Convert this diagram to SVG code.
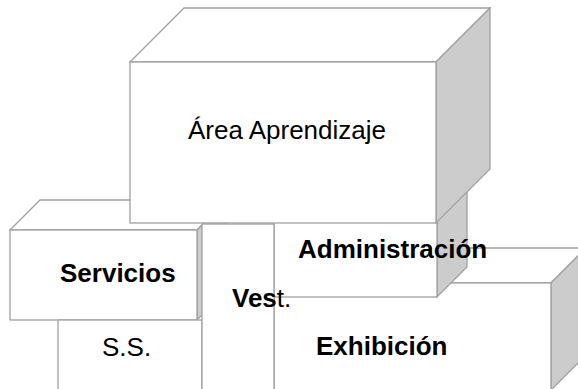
<svg xmlns="http://www.w3.org/2000/svg" width="578" height="389" viewBox="0 0 578 389">
<style>
.f{fill:#ffffff;stroke:#a0a0a0;stroke-width:1.3;stroke-linejoin:miter}
.s{fill:#cccccc;stroke:#a0a0a0;stroke-width:1.3}
.t{font-family:"Liberation Sans",Arial,sans-serif;font-size:26px;fill:#000000}
.b{font-weight:bold}
</style>
<rect width="578" height="389" fill="#ffffff"/>
<g id="exhibicion">
<polygon class="f" points="274,283 309,248 586,248 551,283"/>
<polygon class="s" points="551,283 586,248 586,355 551,390"/>
<rect class="f" x="274" y="283" width="277" height="107"/>
<text class="t b" x="316" y="355">Exhibición</text>
</g>
<g id="administracion">
<polygon class="s" points="437,180 467,150 467,267 437,297"/>
<rect class="f" x="274" y="180" width="163" height="117"/>
<text class="t b" x="298" y="258">Administración</text>
</g>
<g id="servicios">
<polygon class="f" points="10,230 40,200 227,200 197,230"/>
<polygon class="s" points="197,230 227,200 227,290 197,320"/>
<rect class="f" x="10" y="230" width="187" height="90"/>
<text class="t b" x="60" y="282">Servicios</text>
</g>
<g id="ss">
<rect class="f" x="58" y="320" width="144" height="80"/>
<text class="t" x="102" y="356">S.S.</text>
</g>
<g id="area-aprendizaje">
<polygon class="f" points="130,62 184,8 490,8 436,62"/>
<polygon class="s" points="436,62 490,8 490,169 436,223"/>
<rect class="f" x="130" y="62" width="306" height="161"/>
<text class="t" x="287" y="139" text-anchor="middle">Área Aprendizaje</text>
</g>
<g id="vest">
<rect class="f" x="202" y="224" width="72" height="176"/>
<text class="t" x="232" y="307"><tspan class="b">Ves</tspan>t.</text>
</g>
<g id="connectors"></g>
</svg>
